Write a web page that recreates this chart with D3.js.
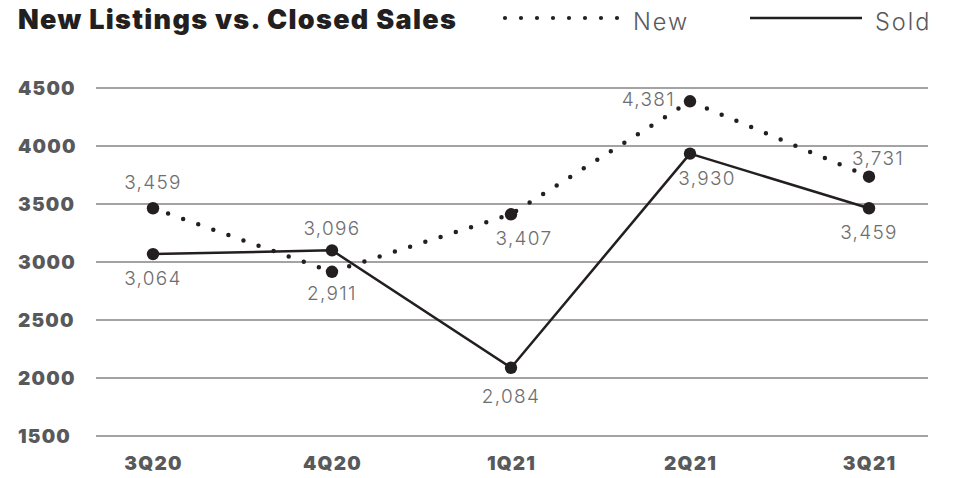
<!DOCTYPE html>
<html>
<head>
<meta charset="utf-8">
<script src="https://cdn.jsdelivr.net/npm/d3@7"></script>
<style>
  html, body { margin: 0; padding: 0; background: #fff; }
  svg { display: block; }
</style>
</head>
<body>
<svg id="chart" width="955" height="478"></svg>
<script>
// Quarterly new listings vs. closed sales
const quarters = ["3Q20", "4Q20", "1Q21", "2Q21", "3Q21"];
const newListings = [3459, 2911, 3407, 4381, 3731];
const closedSales = [3064, 3096, 2084, 3930, 3459];
const yTicks = [1500, 2000, 2500, 3000, 3500, 4000, 4500];

// value-label placement relative to each point: [dx, dy, anchor]
const newLabelPlacement = [[0, -19, "middle"], [0, 28, "middle"], [13, 31, "middle"], [-15, 5, "end"], [9, -12, "middle"]];
const soldLabelPlacement = [[0, 31, "middle"], [0, -15, "middle"], [0, 35, "middle"], [17, 31, "middle"], [0, 31, "middle"]];

const ink = "#231f20";
const axisGray = "#58595b";
const labelGray = "#6d6e71";
const gridGray = "#858585";

const svg = d3.select("#chart");
const plotLeft = 96, plotRight = 928, plotTop = 87.5, plotBottom = 435.5;

const x = d3.scalePoint().domain(quarters).range([plotLeft - 1, plotRight - 1]).padding(0.324);
const y = d3.scaleLinear().domain([1500, 4500]).range([plotBottom, plotTop]);

// title
svg.append("text")
  .attr("x", 18).attr("y", 29)
  .attr("font-family", "Inter, 'Noto Sans', sans-serif")
  .attr("font-weight", 900)
  .attr("font-size", 27)
  .attr("letter-spacing", 1.3)
  .attr("fill", ink)
  .text("New Listings vs. Closed Sales");

// legend
const legend = svg.append("g");
legend.append("line")
  .attr("x1", 505).attr("x2", 618).attr("y1", 18).attr("y2", 18)
  .attr("stroke", ink).attr("stroke-width", 4.2)
  .attr("stroke-linecap", "round").attr("stroke-dasharray", "0 16");
legend.append("text")
  .attr("x", 633).attr("y", 30)
  .attr("font-family", "Inter, sans-serif").attr("font-weight", 300)
  .attr("font-size", 23.5).attr("letter-spacing", 2).attr("fill", axisGray)
  .text("New");
legend.append("line")
  .attr("x1", 750).attr("x2", 862).attr("y1", 18).attr("y2", 18)
  .attr("stroke", ink).attr("stroke-width", 2.5);
legend.append("text")
  .attr("x", 875).attr("y", 30)
  .attr("font-family", "Inter, sans-serif").attr("font-weight", 300)
  .attr("font-size", 23.5).attr("letter-spacing", 2).attr("fill", axisGray)
  .text("Sold");

// y axis with gridlines
const yAxis = svg.append("g")
  .attr("transform", `translate(${plotLeft},0)`)
  .call(d3.axisLeft(y).tickValues(yTicks).tickSize(-(plotRight - plotLeft)).tickFormat(d3.format("d")));
yAxis.select(".domain").remove();
yAxis.selectAll(".tick line").attr("stroke", gridGray).attr("stroke-width", 1.5);
yAxis.selectAll(".tick text")
  .attr("x", 18 - plotLeft).attr("dy", "0.36em")
  .attr("text-anchor", "start")
  .attr("font-family", "Inter, sans-serif").attr("font-weight", 900)
  .attr("font-size", 19).attr("letter-spacing", 1.2)
  .attr("fill", axisGray);

// x axis labels
const xAxis = svg.append("g")
  .attr("transform", `translate(0,${plotBottom})`)
  .call(d3.axisBottom(x).tickSize(0));
xAxis.select(".domain").remove();
xAxis.selectAll(".tick text")
  .attr("y", 34.5).attr("dy", 0)
  .attr("font-family", "Inter, sans-serif").attr("font-weight", 900)
  .attr("font-size", 19).attr("letter-spacing", 1.2)
  .attr("fill", axisGray);

const line = d3.line().x((d, i) => x(quarters[i])).y(d => y(d));

// new listings: dotted line
svg.append("path")
  .datum(newListings)
  .attr("d", line)
  .attr("fill", "none").attr("stroke", ink).attr("stroke-width", 4.5)
  .attr("stroke-linecap", "round").attr("stroke-dasharray", "0 16");

// closed sales: solid line
svg.append("path")
  .datum(closedSales)
  .attr("d", line)
  .attr("fill", "none").attr("stroke", ink).attr("stroke-width", 2.5)
  .attr("stroke-linejoin", "round");

function drawPoints(values, placement, cls) {
  const g = svg.append("g").attr("class", cls);
  g.selectAll("circle").data(values).join("circle")
    .attr("cx", (d, i) => x(quarters[i]))
    .attr("cy", d => y(d))
    .attr("r", 6.2)
    .attr("fill", ink);
  g.selectAll("text").data(values).join("text")
    .attr("x", (d, i) => x(quarters[i]) + placement[i][0])
    .attr("y", (d, i) => y(d) + placement[i][1])
    .attr("text-anchor", (d, i) => placement[i][2])
    .attr("font-family", "Inter, sans-serif").attr("font-weight", 300)
    .attr("font-size", 19).attr("letter-spacing", 1.3)
    .attr("fill", labelGray)
    .text(d => d3.format(",")(d));
}

drawPoints(newListings, newLabelPlacement, "new-points");
drawPoints(closedSales, soldLabelPlacement, "sold-points");
</script>
</body>
</html>
